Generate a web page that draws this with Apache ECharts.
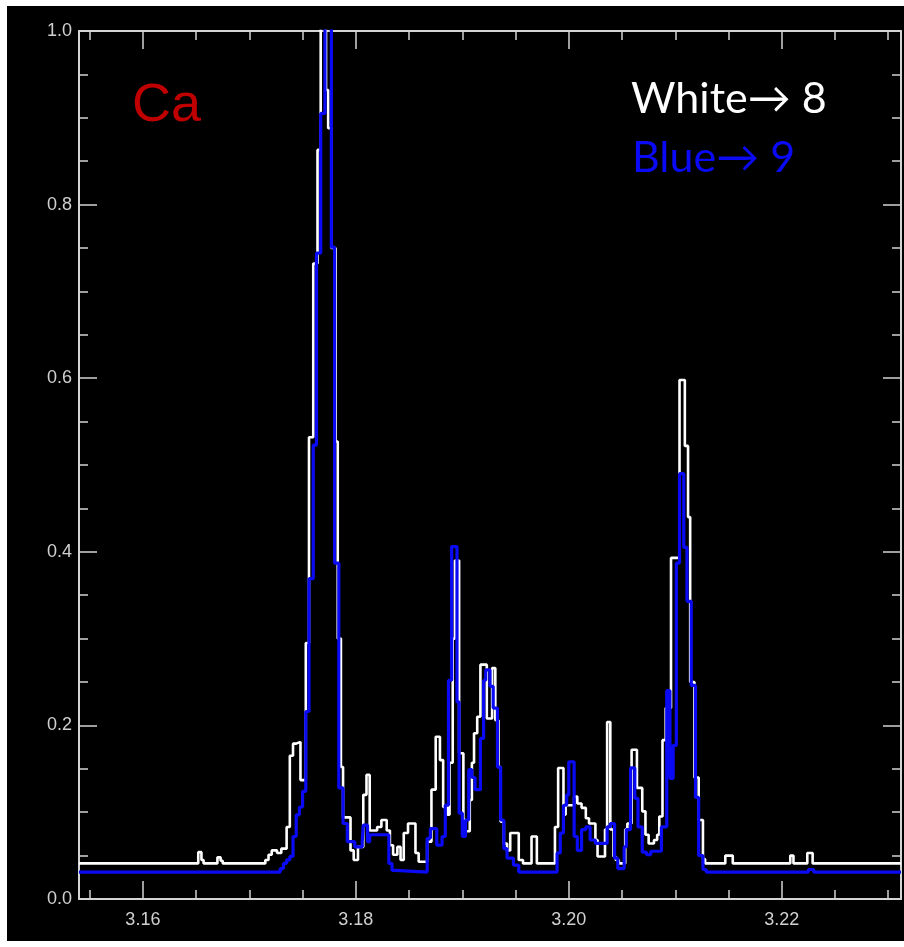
<!DOCTYPE html>
<html>
<head>
<meta charset="utf-8">
<script src="https://cdn.jsdelivr.net/npm/echarts@6/dist/echarts.min.js"></script>
<style>
  html, body { margin: 0; padding: 0; background: #ffffff; }
  #wrap { position: relative; width: 904px; height: 947px; background: #ffffff; }
  #chart { position: absolute; left: 7px; top: 6px; width: 897px; height: 935px; background: #000000; }
</style>
</head>
<body>
<div id="wrap"><div id="chart"></div></div>
<script>
// Ca line region, two spectra drawn as histograms (value holds until next edge)
const whiteEnergy = [
  3.1540, 3.1652, 3.1655, 3.1657, 3.1670, 3.1673, 3.1675, 3.1715, 3.1718, 3.1721,
  3.1726, 3.1730, 3.1735, 3.1738, 3.1741, 3.1744, 3.1748, 3.1753, 3.1756, 3.1760,
  3.1764, 3.1767, 3.1772, 3.1774, 3.1777, 3.1781, 3.1783, 3.1786, 3.1788, 3.1795,
  3.1798, 3.1802, 3.1807, 3.1810, 3.1813, 3.1820, 3.1824, 3.1829, 3.1832, 3.1835,
  3.1839, 3.1842, 3.1845, 3.1849, 3.1856, 3.1859, 3.1867, 3.1871, 3.1875, 3.1879,
  3.1882, 3.1886, 3.1888, 3.1891, 3.1893, 3.1897, 3.1901, 3.1903, 3.1907, 3.1909,
  3.1911, 3.1914, 3.1917, 3.1923, 3.1928, 3.1931, 3.1934, 3.1936, 3.1939, 3.1942,
  3.1945, 3.1953, 3.1957, 3.1965, 3.1970, 3.1987, 3.1990, 3.1995, 3.1997, 3.2005,
  3.2008, 3.2012, 3.2016, 3.2019, 3.2025, 3.2027, 3.2034, 3.2036, 3.2039, 3.2042,
  3.2044, 3.2047, 3.2053, 3.2055, 3.2059, 3.2064, 3.2069, 3.2072, 3.2075, 3.2080,
  3.2083, 3.2085, 3.2088, 3.2091, 3.2096, 3.2104, 3.2109, 3.2112, 3.2114, 3.2118,
  3.2122, 3.2126, 3.2128, 3.2147, 3.2154, 3.2208, 3.2211, 3.2224, 3.2229, 3.2312
];
const whiteCounts = [
  0.041, 0.054, 0.045, 0.041, 0.048, 0.044, 0.041, 0.045, 0.051, 0.056,
  0.053, 0.058, 0.083, 0.165, 0.179, 0.181, 0.137, 0.295, 0.532, 0.732,
  0.863, 1.060, 0.932, 0.888, 0.750, 0.527, 0.300, 0.152, 0.094, 0.056,
  0.045, 0.060, 0.120, 0.143, 0.079, 0.083, 0.091, 0.079, 0.062, 0.051,
  0.060, 0.045, 0.076, 0.087, 0.053, 0.043, 0.066, 0.126, 0.187, 0.160,
  0.106, 0.097, 0.157, 0.300, 0.390, 0.168, 0.091, 0.078, 0.114, 0.157,
  0.191, 0.210, 0.270, 0.208, 0.266, 0.206, 0.152, 0.089, 0.064, 0.056,
  0.076, 0.045, 0.041, 0.072, 0.041, 0.083, 0.151, 0.097, 0.108, 0.118,
  0.110, 0.105, 0.093, 0.087, 0.068, 0.049, 0.080, 0.204, 0.080, 0.049,
  0.045, 0.041, 0.080, 0.087, 0.172, 0.128, 0.101, 0.074, 0.064, 0.068,
  0.074, 0.095, 0.183, 0.220, 0.393, 0.598, 0.522, 0.440, 0.250, 0.140,
  0.091, 0.046, 0.041, 0.050, 0.041, 0.050, 0.041, 0.053, 0.041, 0.041
];

const blueEnergy = [
  3.1540, 3.1729, 3.1732, 3.1735, 3.1738, 3.1741, 3.1744, 3.1747, 3.1750, 3.1753,
  3.1756, 3.1760, 3.1763, 3.1767, 3.1771, 3.1777, 3.1780, 3.1784, 3.1788, 3.1792,
  3.1799, 3.1806, 3.1807, 3.1811, 3.1813, 3.1831, 3.1834, 3.1837, 3.1867, 3.1870,
  3.1876, 3.1881, 3.1884, 3.1887, 3.1890, 3.1895, 3.1897, 3.1900, 3.1903, 3.1906,
  3.1909, 3.1912, 3.1917, 3.1920, 3.1922, 3.1926, 3.1929, 3.1933, 3.1936, 3.1939,
  3.1942, 3.1948, 3.1953, 3.1989, 3.1992, 3.1995, 3.1998, 3.2000, 3.2005, 3.2008,
  3.2012, 3.2016, 3.2020, 3.2025, 3.2036, 3.2039, 3.2043, 3.2046, 3.2052, 3.2054,
  3.2058, 3.2062, 3.2065, 3.2069, 3.2073, 3.2077, 3.2087, 3.2092, 3.2095, 3.2098,
  3.2101, 3.2104, 3.2108, 3.2111, 3.2115, 3.2119, 3.2122, 3.2126, 3.2129, 3.2225,
  3.2230, 3.2312
];
const blueCounts = [
  0.031, 0.035, 0.041, 0.045, 0.049, 0.072, 0.097, 0.106, 0.124, 0.216,
  0.369, 0.523, 0.744, 0.905, 1.060, 0.751, 0.387, 0.128, 0.087, 0.066,
  0.060, 0.066, 0.085, 0.066, 0.074, 0.041, 0.033, 0.031, 0.070, 0.081,
  0.062, 0.072, 0.108, 0.252, 0.406, 0.227, 0.099, 0.072, 0.091, 0.149,
  0.140, 0.126, 0.185, 0.252, 0.264, 0.245, 0.220, 0.152, 0.091, 0.058,
  0.047, 0.039, 0.031, 0.053, 0.076, 0.108, 0.120, 0.158, 0.072, 0.056,
  0.080, 0.083, 0.068, 0.064, 0.083, 0.087, 0.047, 0.035, 0.060, 0.080,
  0.151, 0.116, 0.083, 0.054, 0.051, 0.055, 0.083, 0.240, 0.139, 0.177,
  0.387, 0.490, 0.405, 0.343, 0.246, 0.117, 0.050, 0.034, 0.031, 0.034,
  0.031, 0.031
];

const xMajorTicks = [3.16, 3.18, 3.20, 3.22];
const xMinorTicks = [3.155, 3.165, 3.170, 3.175, 3.185, 3.190, 3.195, 3.205, 3.210, 3.215, 3.225, 3.230];

const xMin = 3.154, xMax = 3.2312;
const axisColor = '#d4d4d4';
const labelFont = { color: '#d0d0d0', fontFamily: 'Liberation Sans', fontSize: 18 };

const zip = (xs, ys) => xs.map((x, i) => [x, ys[i]]);

function xAx(position, values, len, withLine, withLabels) {
  return {
    type: 'value', position: position, min: xMin, max: xMax,
    axisLine: { show: withLine, onZero: false, lineStyle: { color: axisColor, width: 2 } },
    axisTick: { show: true, inside: true, length: len, customValues: values,
                lineStyle: { color: axisColor, width: 1.5 } },
    axisLabel: withLabels
      ? Object.assign({ show: true, customValues: values, margin: 12,
          formatter: v => v.toFixed(2) }, labelFont)
      : { show: false },
    splitLine: { show: false }
  };
}

function yAx(position, withLabels) {
  return {
    type: 'value', position: position, min: 0, max: 1, interval: 0.2,
    axisLine: { show: true, onZero: false, lineStyle: { color: axisColor, width: 2 } },
    axisTick: { show: true, inside: true, length: 18, lineStyle: { color: axisColor, width: 1.5 } },
    minorTick: { show: true, splitNumber: 4, length: 9, lineStyle: { color: axisColor, width: 1.5 } },
    axisLabel: withLabels
      ? Object.assign({ show: true, margin: 7, formatter: v => v.toFixed(1) }, labelFont)
      : { show: false },
    splitLine: { show: false },
    minorSplitLine: { show: false }
  };
}

const chart = echarts.init(document.getElementById('chart'), null, { renderer: 'canvas' });
chart.setOption({
  animation: false,
  backgroundColor: '#000000',
  grid: { left: 72, top: 25, width: 822, height: 868, containLabel: false },
  xAxis: [
    xAx('bottom', xMajorTicks, 18, true, true),
    xAx('top', xMajorTicks, 18, true, false),
    xAx('bottom', xMinorTicks, 9, false, false),
    xAx('top', xMinorTicks, 9, false, false)
  ],
  yAxis: [yAx('left', true), yAx('right', false)],
  series: [
    {
      type: 'line', step: 'end', xAxisIndex: 0, yAxisIndex: 0,
      data: zip(whiteEnergy, whiteCounts),
      showSymbol: false, clip: true,
      lineStyle: { color: '#ffffff', width: 2.6 }, z: 2
    },
    {
      type: 'line', step: 'end', xAxisIndex: 0, yAxisIndex: 0,
      data: zip(blueEnergy, blueCounts),
      showSymbol: false, clip: true,
      lineStyle: { color: '#0a0af5', width: 3.2 }, z: 3
    }
  ],
  graphic: [
    { type: 'text', left: 125, top: 73,
      style: { text: 'Ca', fill: '#c00000', font: '54px "Liberation Sans"' } },
    { type: 'text', left: 624, top: 72,
      style: { text: 'White\u2192 8', fill: '#ffffff', font: '43px Lato' } },
    { type: 'text', left: 625, top: 131,
      style: { text: 'Blue\u2192 9', fill: '#0a0af5', font: '43px Lato' } }
  ]
});
</script>
</body>
</html>
